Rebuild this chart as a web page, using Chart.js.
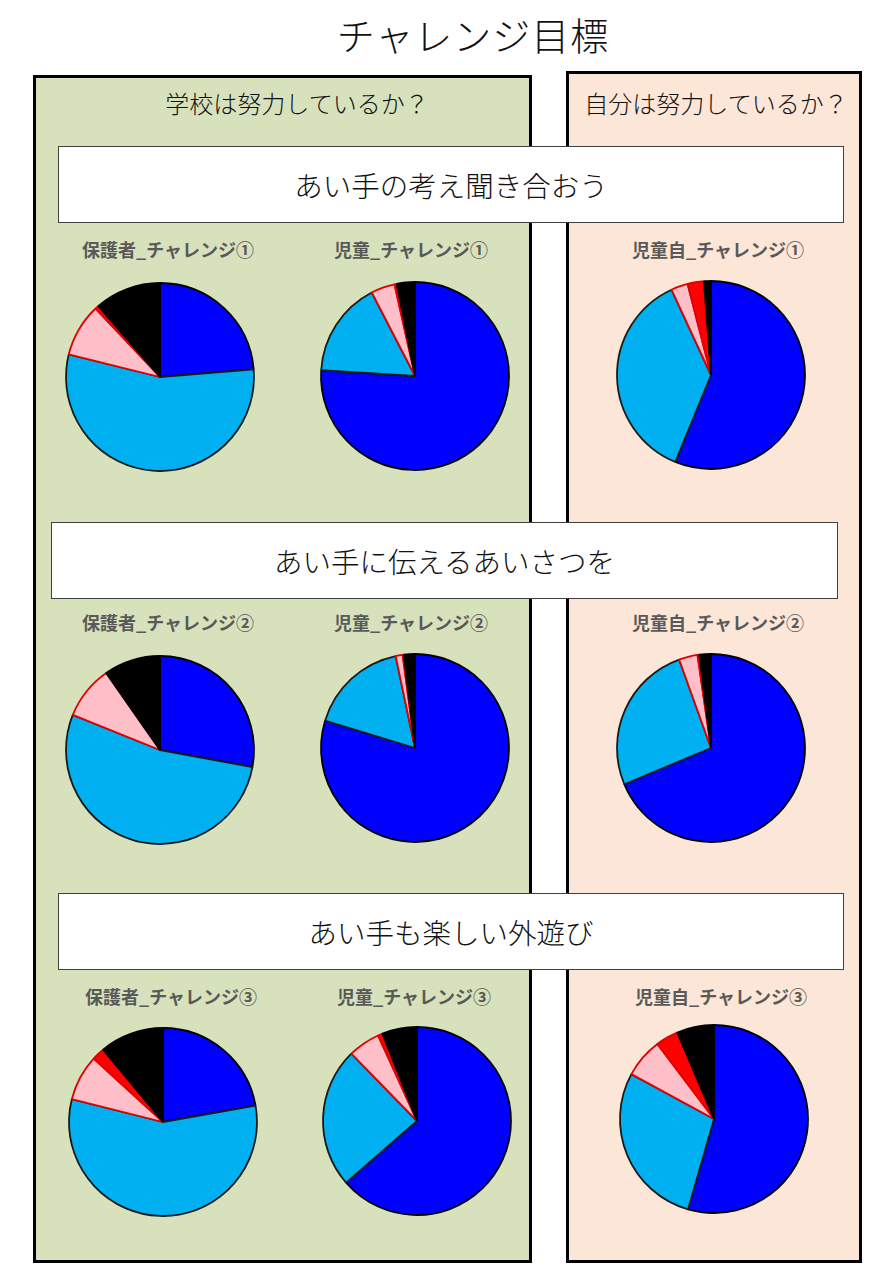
<!DOCTYPE html>
<html>
<head>
<meta charset="utf-8">
<script src="https://cdn.jsdelivr.net/npm/chart.js@4/dist/chart.umd.min.js"></script>
<style>
  body { margin: 0; width: 886px; height: 1280px; position: relative; background: #fff;
         font-family: "Noto Sans CJK JP", "Noto Sans", sans-serif; overflow: hidden; }
  .abs { position: absolute; }
  .title { top: 6px; text-align: center; font-size: 38px; font-weight: 300; color: #111; letter-spacing: 1px; }
  .panel { border: 3px solid #000; box-sizing: border-box; }
  .panel-head { text-align: center; font-size: 24px; font-weight: 300; color: #111; }
  .banner { background: #fff; border: 1.5px solid #404040; box-sizing: border-box;
            display: flex; align-items: center; justify-content: center; font-size: 28.5px; font-weight: 300; color: #111; }
  .pie-title { width: 240px; text-align: center; font-size: 18px; font-weight: bold; color: #595959; }
  .pie { width: 200px; height: 200px; }
</style>
</head>
<body>
<div id="page"></div>
<script>
// categories (legend not shown in the picture)
const categories = ['とてもそう思う', 'そう思う', 'あまりそう思わない', 'そう思わない', 'わからない'];
const sliceColors = ['#0000FF', '#00B0F0', '#FFBFC8', '#FF0000', '#000000'];
const sliceBorders = ['#000000', '#1a1a1a', '#E00000', '#E00000', '#000000'];

// percentages
const hogosha1 = [23.7, 55.1, 9.1, 0.6, 11.4];
const jido1    = [75.9, 16.4, 4.1, 0.4, 3.1];
const jidoJi1  = [56.2, 36.9, 2.9, 2.8, 1.2];
const hogosha2 = [27.9, 53.2, 9.2, 0.0, 9.7];
const jido2    = [79.7, 17.0, 1.2, 0.2, 1.9];
const jidoJi2  = [68.7, 25.8, 3.2, 0.3, 2.0];
const hogosha3 = [22.2, 56.7, 7.9, 2.2, 11.0];
const jido3    = [63.6, 24.1, 5.5, 0.8, 6.0];
const jidoJi3  = [54.5, 28.5, 6.8, 3.9, 6.4];

const pieTitles = [
  '保護者_チャレンジ①', '児童_チャレンジ①', '児童自_チャレンジ①',
  '保護者_チャレンジ②', '児童_チャレンジ②', '児童自_チャレンジ②',
  '保護者_チャレンジ③', '児童_チャレンジ③', '児童自_チャレンジ③'
];
const banners = ['あい手の考え聞き合おう', 'あい手に伝えるあいさつを', 'あい手も楽しい外遊び'];
const panelHeads = ['学校は努力しているか？', '自分は努力しているか？'];
const mainTitle = 'チャレンジ目標';

const pieData = [hogosha1, jido1, jidoJi1, hogosha2, jido2, jidoJi2, hogosha3, jido3, jidoJi3];

// layout
const pieCenters = [
  [160, 377], [415, 376], [711, 375],
  [160, 750], [415, 748], [711, 748],
  [163, 1122], [417, 1121], [714, 1119]
];
const titleSpots = [
  [168, 250], [411, 250], [718, 250],
  [168, 623], [411, 623], [718, 623],
  [171, 997], [414, 997], [721, 997]
];
const bannerBoxes = [[58, 146, 786, 77], [51, 522, 787, 77], [58, 893, 786, 77]];

function el(cls, css, text){
  const d = document.createElement('div');
  d.className = 'abs ' + cls;
  Object.assign(d.style, css);
  if (text) d.textContent = text;
  document.getElementById('page').appendChild(d);
  return d;
}

el('panel', {left:'33px', top:'75px', width:'499px', height:'1188px', background:'#D7E2BD'});
el('panel', {left:'566px', top:'71px', width:'296px', height:'1192px', background:'#FBE6D7'});
el('title', {left:'0px', width:'946px'}, mainTitle);
el('panel-head', {left:'57px', width:'480px', top:'85px'}, panelHeads[0]);
el('panel-head', {left:'566px', width:'300px', top:'85px'}, panelHeads[1]);

banners.forEach((t, i) => {
  const b = bannerBoxes[i];
  el('banner', {left:b[0]+'px', top:b[1]+'px', width:b[2]+'px', height:b[3]+'px'}, t);
});

pieTitles.forEach((t, i) => {
  const s = titleSpots[i];
  el('pie-title', {left:(s[0]-120)+'px', top:(s[1]-14)+'px'}, t);
});

pieData.forEach((vals, i) => {
  const c = pieCenters[i];
  const box = el('pie', {left:(c[0]-100)+'px', top:(c[1]-100)+'px'});
  const cv = document.createElement('canvas');
  box.appendChild(cv);
  new Chart(cv.getContext('2d'), {
    type: 'pie',
    data: {
      labels: categories,
      datasets: [{
        data: vals,
        backgroundColor: sliceColors,
        borderColor: sliceBorders,
        borderWidth: 1.8
      }]
    },
    options: {
      responsive: true,
      maintainAspectRatio: false,
      animation: false,
      radius: 94,
      layout: { padding: 0 },
      plugins: { legend: { display: false }, tooltip: { enabled: false }, title: { display: false } }
    }
  });
});
</script>
</body>
</html>
